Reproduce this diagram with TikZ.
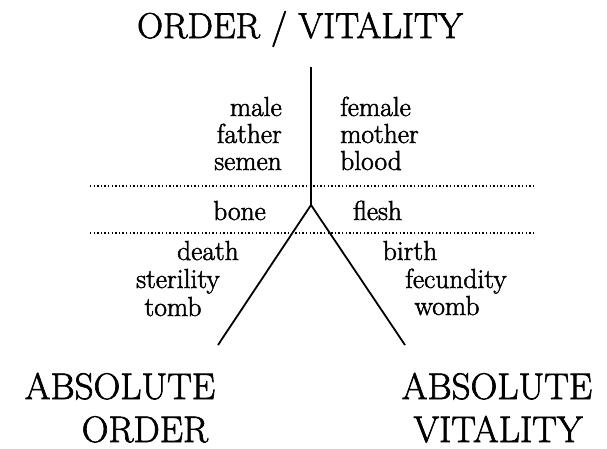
\documentclass[tikz,border=0pt]{standalone}
\usepackage{fontspec}
\newfontfamily\bookfont{Latin Modern Roman}[FakeBold=1.8]
\begin{document}
\begin{tikzpicture}[x=1pt,y=1pt,
  word/.style={inner sep=0pt,font=\bookfont\fontsize{27.5}{30}\selectfont},
  big/.style={inner sep=0pt,font=\bookfont\fontsize{37}{40}\selectfont},
  title/.style={inner sep=0pt,font=\bookfont\fontsize{36}{38}\selectfont},
  solidline/.style={line width=1.8pt,line join=miter},
  dotline/.style={line width=1.3pt,dash pattern=on 1.3pt off 2.3pt}]
\useasboundingbox (0,0) rectangle (607,-448);
% title
\node[title,anchor=base] (ttl) at (300,-38) {ORDER / VITALITY};
% skeleton coordinates
\coordinate (top) at (311,-67);
\coordinate (vtx) at (311,-205);
\coordinate (lend) at (218,-345);
\coordinate (rend) at (405,-345);
\coordinate (d1l) at (90,-186);
\coordinate (d1r) at (533,-186);
\coordinate (d2l) at (90,-233);
\coordinate (d2r) at (533,-233);
\draw[solidline] (top) -- (vtx);
\draw[solidline] (lend) -- (vtx) -- (rend);
\draw[dotline] (d1l) -- (d1r);
\draw[dotline] (d2l) -- (d2r);
% upper words
\node[word,anchor=base east] (male) at (282,-116) {male};
\node[word,anchor=base east] (father) at (282,-143) {father};
\node[word,anchor=base east] (semen) at (282,-170) {semen};
\node[word,anchor=base west] (female) at (340,-116) {female};
\node[word,anchor=base west] (mother) at (340,-143) {mother};
\node[word,anchor=base west] (blood) at (340,-170) {blood};
% middle band
\node[word,anchor=base east] (bone) at (266,-220) {bone};
\node[word,anchor=base west] (flesh) at (353,-220) {flesh};
% lower words
\node[word,anchor=base] (death) at (208,-260) {death};
\node[word,anchor=base] (sterility) at (178,-288) {sterility};
\node[word,anchor=base] (tomb) at (173,-316) {tomb};
\node[word,anchor=base] (birth) at (410,-260) {birth};
\node[word,anchor=base] (fecundity) at (456,-288) {fecundity};
\node[word,anchor=base] (womb) at (447,-315) {womb};
% poles
\node[big,anchor=base] (absl) at (120,-399) {ABSOLUTE};
\node[big,anchor=base] (ordl) at (145,-442) {ORDER};
\node[big,anchor=base] (absr) at (497,-399) {ABSOLUTE};
\node[big,anchor=base] (vitr) at (498,-442) {VITALITY};
\end{tikzpicture}
\end{document}
